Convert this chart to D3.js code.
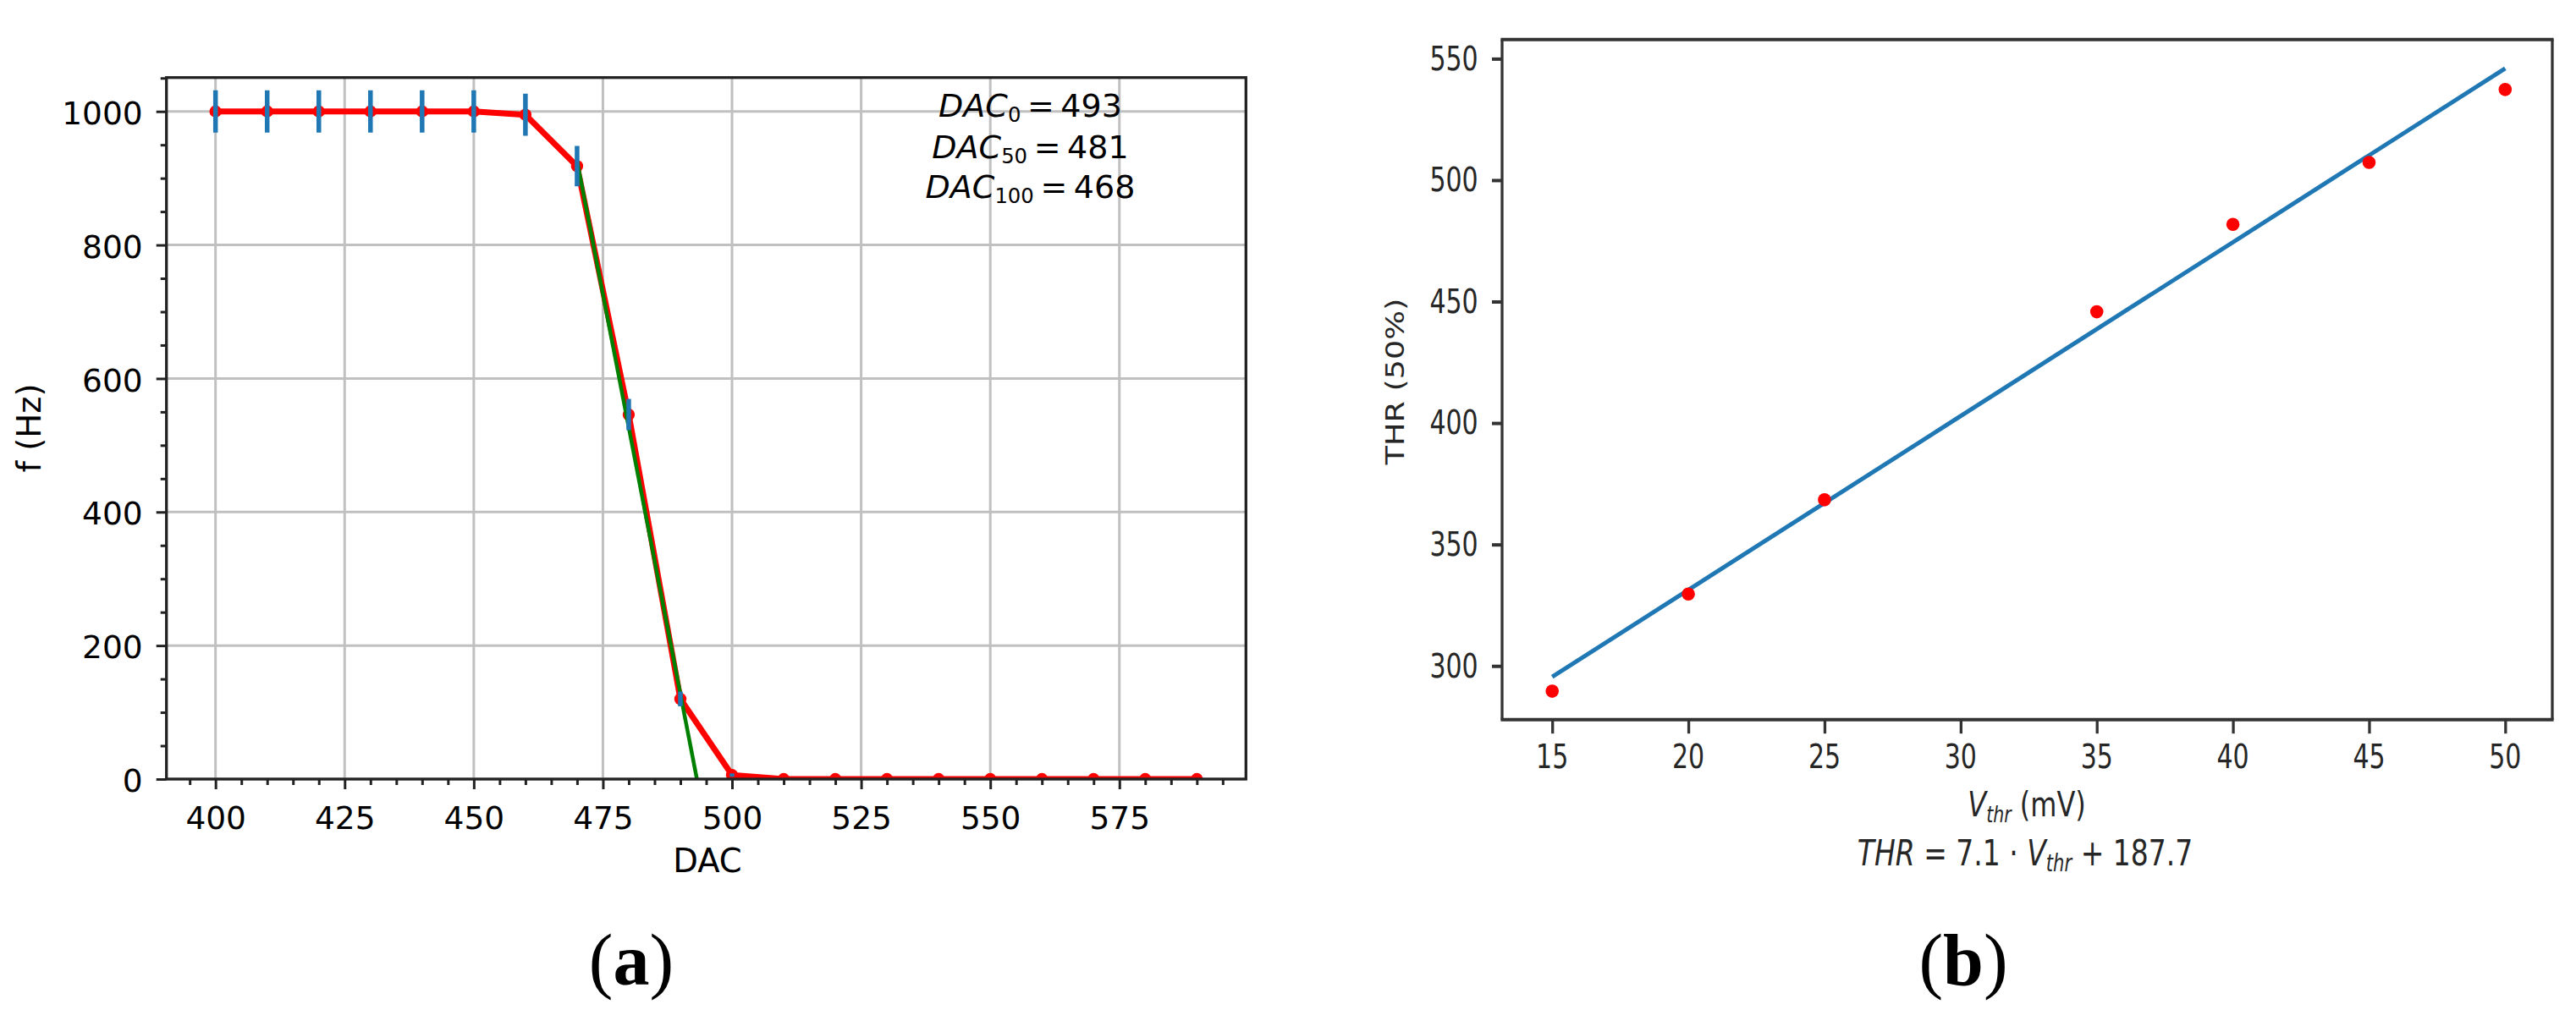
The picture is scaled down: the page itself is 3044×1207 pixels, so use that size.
<!DOCTYPE html>
<html>
<head>
<meta charset="utf-8">
<script src="https://cdn.jsdelivr.net/npm/d3@7"></script>
<style>
  html, body { margin: 0; padding: 0; background: #fff; }
  svg { display: block; }
</style>
</head>
<body>
<script>
// ---------- Data: panel (a) ----------
const dacValues = [400, 410, 420, 430, 440, 450, 460, 470, 480, 490, 500, 510, 520, 530, 540, 550, 560, 570, 580, 590];
const freqValues = [1000, 1000, 1000, 1000, 1000, 1000, 995, 918, 546, 120, 6, 0, 0, 0, 0, 0, 0, 0, 0, 0];
const freqErrors = [31.6, 31.6, 31.6, 31.6, 31.6, 31.6, 31.5, 30.3, 23.4, 11.0, 2.4, 0, 0, 0, 0, 0, 0, 0, 0, 0];
const fitDacX = [470, 493.2];
const fitDacY = [926, 0];
const xTicksA = [400, 425, 450, 475, 500, 525, 550, 575];
const yTicksA = [0, 200, 400, 600, 800, 1000];
const annotA = [
  { sub: "0", val: "493" },
  { sub: "50", val: "481" },
  { sub: "100", val: "468" }
];

// ---------- Data: panel (b) ----------
const vthrValues = [15, 20, 25, 35, 40, 45, 50];
const thrValues = [289.6, 329.6, 368.4, 445.8, 481.8, 507.3, 537.3];
const fitVthrX = [15, 50];
const fitThrY = [295.5, 546.0];
const xTicksB = [15, 20, 25, 30, 35, 40, 45, 50];
const yTicksB = [300, 350, 400, 450, 500, 550];

const W = 3044, H = 1207;
const FONT = "'DejaVu Sans', sans-serif";

const svg = d3.select("body").append("svg")
  .attr("width", W).attr("height", H)
  .attr("viewBox", `0 0 ${W} ${H}`);
svg.append("rect").attr("width", W).attr("height", H).attr("fill", "#fff");

const defs = svg.append("defs");

// helper to write mathtext-like rich text
function richText(sel, parts, size) {
  parts.forEach(p => {
    const t = sel.append("tspan").text(p.t);
    if (p.italic) t.attr("font-style", "italic");
    if (p.sub) {
      t.attr("font-size", size * 0.64).attr("dy", size * 0.16);
    } else if (p.after) {
      t.attr("dy", -size * 0.16);
    }
  });
}

// =============== Panel (a) ===============
const A = { l: 196.7, r: 1472.3, t: 91.7, b: 921 };
const xA = d3.scaleLinear().domain([390.5, 599.5]).range([A.l, A.r]);
const yA = d3.scaleLinear().domain([0, 1050.7]).range([A.b, A.t]);

defs.append("clipPath").attr("id", "clipA").append("rect")
  .attr("x", A.l).attr("y", A.t).attr("width", A.r - A.l).attr("height", A.b - A.t);

const gA = svg.append("g");

// grid
const gridA = gA.append("g").attr("stroke", "#c0c0c0").attr("stroke-width", 3);
gridA.selectAll("line.gx").data(xTicksA).join("line")
  .attr("x1", d => xA(d)).attr("x2", d => xA(d)).attr("y1", A.t).attr("y2", A.b);
gridA.selectAll("line.gy").data(yTicksA).join("line")
  .attr("y1", d => yA(d)).attr("y2", d => yA(d)).attr("x1", A.l).attr("x2", A.r);

const ptsA = dacValues.map((d, i) => ({ x: d, y: freqValues[i], e: freqErrors[i] }));
const dataA = gA.append("g").attr("clip-path", "url(#clipA)");

// red line + markers
dataA.append("path").datum(ptsA)
  .attr("fill", "none").attr("stroke", "#ff0000").attr("stroke-width", 7)
  .attr("stroke-linejoin", "round")
  .attr("d", d3.line().x(d => xA(d.x)).y(d => yA(d.y)));
dataA.selectAll("circle").data(ptsA).join("circle")
  .attr("cx", d => xA(d.x)).attr("cy", d => yA(d.y)).attr("r", 7.2).attr("fill", "#ff0000");

// green fit line
dataA.append("path").datum(fitDacX.map((x, i) => ({ x, y: fitDacY[i] })))
  .attr("fill", "none").attr("stroke", "#008000").attr("stroke-width", 4.5)
  .attr("d", d3.line().x(d => xA(d.x)).y(d => yA(d.y)));

// error bars
dataA.selectAll("line.err").data(ptsA.filter(d => d.e > 0)).join("line")
  .attr("class", "err")
  .attr("x1", d => xA(d.x)).attr("x2", d => xA(d.x))
  .attr("y1", d => yA(d.y - d.e)).attr("y2", d => yA(d.y + d.e))
  .attr("stroke", "#1f77b4").attr("stroke-width", 5.5);

// axes
const minorXA = d3.range(395, 600, 5).filter(v => v % 25 !== 0);
const minorYA = d3.range(50, 1051, 50).filter(v => v % 200 !== 0);

function styleAxis(g, size) {
  g.select(".domain").remove();
  g.selectAll(".tick line").attr("stroke", "#222").attr("stroke-width", 3);
  g.selectAll(".tick text").attr("font-family", FONT).attr("font-size", size).attr("fill", "#000");
}

const axXA = gA.append("g").attr("transform", `translate(0,${A.b})`)
  .call(d3.axisBottom(xA).tickValues(xTicksA).tickSize(12).tickPadding(20).tickFormat(d3.format("d")));
styleAxis(axXA, 37.5);
const axXAm = gA.append("g").attr("transform", `translate(0,${A.b})`)
  .call(d3.axisBottom(xA).tickValues(minorXA).tickSize(7).tickFormat(""));
styleAxis(axXAm, 37.5);

const axYA = gA.append("g").attr("transform", `translate(${A.l},0)`)
  .call(d3.axisLeft(yA).tickValues(yTicksA).tickSize(12).tickPadding(16).tickFormat(d3.format("d")));
styleAxis(axYA, 37.5);
axYA.selectAll(".tick text").attr("dy", "0.39em");
const axYAm = gA.append("g").attr("transform", `translate(${A.l},0)`)
  .call(d3.axisLeft(yA).tickValues(minorYA).tickSize(7).tickFormat(""));
styleAxis(axYAm, 37.5);

// spines
gA.append("rect").attr("x", A.l).attr("y", A.t).attr("width", A.r - A.l).attr("height", A.b - A.t)
  .attr("fill", "none").attr("stroke", "#222").attr("stroke-width", 3.3);

// labels
gA.append("text").attr("x", (A.l + A.r) / 2 + 1.5).attr("y", 1030.7)
  .attr("text-anchor", "middle").attr("font-family", FONT).attr("font-size", 38.5)
  .text("DAC");
gA.append("text").attr("transform", "translate(48.3,506) rotate(-90)")
  .attr("text-anchor", "middle").attr("font-family", FONT).attr("font-size", 38.5)
  .text("f (Hz)");

// annotation
const annBase = [137.7, 186.7, 234.3];
annotA.forEach((a, i) => {
  const t = gA.append("text").attr("x", 1217.5).attr("y", annBase[i])
    .attr("text-anchor", "middle").attr("font-family", FONT).attr("font-size", 38);
  richText(t, [
    { t: "DAC", italic: true },
    { t: a.sub, sub: true },
    { t: "\u2009=\u2009" + a.val, after: true }
  ], 38);
});

// (a)
const la = svg.append("text").attr("x", 746).attr("y", 1164).attr("text-anchor", "middle")
  .attr("font-family", "'Liberation Serif', serif").attr("font-size", 86);
la.append("tspan").text("(");
la.append("tspan").attr("font-weight", "bold").text("a");
la.append("tspan").text(")");

// =============== Panel (b) ===============
const B = { l: 1775, r: 3016, t: 46.7, b: 850.7 };
const xB = d3.scaleLinear().domain([13.16, 51.73]).range([B.l, B.r]);
const yB = d3.scaleLinear().domain([277.9, 557.9]).range([B.b, B.t]);
const SY = 1.3;
const TXT = "#262626";
const gB = svg.append("g");

// fit line
gB.append("path").datum(fitVthrX.map((x, i) => ({ x, y: fitThrY[i] })))
  .attr("fill", "none").attr("stroke", "#1f77b4").attr("stroke-width", 5)
  .attr("d", d3.line().x(d => xB(d.x)).y(d => yB(d.y)));

// points
gB.selectAll("circle").data(vthrValues.map((v, i) => ({ x: v, y: thrValues[i] }))).join("circle")
  .attr("cx", d => xB(d.x)).attr("cy", d => yB(d.y)).attr("r", 7.8).attr("fill", "#ff0000");

// axes (ticks only, labels placed with scale)
const axXB = gB.append("g").attr("transform", `translate(0,${B.b})`)
  .call(d3.axisBottom(xB).tickValues(xTicksB).tickSize(16.5).tickFormat(""));
axXB.select(".domain").remove();
axXB.selectAll(".tick line").attr("stroke", "#333").attr("stroke-width", 3.3);
const axYB = gB.append("g").attr("transform", `translate(${B.l},0)`)
  .call(d3.axisLeft(yB).tickValues(yTicksB).tickSize(12).tickFormat(""));
axYB.select(".domain").remove();
axYB.selectAll(".tick line").attr("stroke", "#333").attr("stroke-width", 4);

gB.selectAll("text.xl").data(xTicksB).join("text").attr("class", "xl")
  .attr("transform", d => `translate(${xB(d)},908) scale(1,${SY})`)
  .attr("text-anchor", "middle").attr("font-family", FONT).attr("font-size", 30).attr("fill", TXT)
  .text(d => d);
gB.selectAll("text.yl").data(yTicksB).join("text").attr("class", "yl")
  .attr("transform", d => `translate(1746.7,${yB(d) + 13.4}) scale(1,${SY})`)
  .attr("text-anchor", "end").attr("font-family", FONT).attr("font-size", 30).attr("fill", TXT)
  .text(d => d);

// spines
gB.append("line").attr("x1", B.l).attr("x2", B.l).attr("y1", B.t).attr("y2", B.b).attr("stroke", "#333").attr("stroke-width", 3.3);
gB.append("line").attr("x1", B.r).attr("x2", B.r).attr("y1", B.t).attr("y2", B.b).attr("stroke", "#333").attr("stroke-width", 3.3);
gB.append("line").attr("x1", B.l - 1.6).attr("x2", B.r + 1.6).attr("y1", B.t).attr("y2", B.t).attr("stroke", "#333").attr("stroke-width", 4);
gB.append("line").attr("x1", B.l - 1.6).attr("x2", B.r + 1.6).attr("y1", B.b).attr("y2", B.b).attr("stroke", "#333").attr("stroke-width", 4);

// axis labels
const xlb = gB.append("text").attr("transform", `translate(2395,965) scale(1,${SY})`)
  .attr("text-anchor", "middle").attr("font-family", FONT).attr("font-size", 32).attr("fill", TXT);
richText(xlb, [
  { t: "V", italic: true },
  { t: "thr", italic: true, sub: true },
  { t: " (mV)", after: true }
], 32);

const flb = gB.append("text").attr("transform", `translate(2393,1022.7) scale(1,${SY})`)
  .attr("text-anchor", "middle").attr("font-family", FONT).attr("font-size", 33).attr("fill", TXT);
richText(flb, [
  { t: "THR", italic: true },
  { t: " = 7.1 \u00b7 " },
  { t: "V", italic: true },
  { t: "thr", italic: true, sub: true },
  { t: " + 187.7", after: true }
], 33);

gB.append("text").attr("transform", `translate(1659,451) rotate(-90) scale(1.22,1)`)
  .attr("text-anchor", "middle").attr("font-family", FONT).attr("font-size", 30).attr("fill", TXT)
  .text("THR (50%)");

// (b)
const lb = svg.append("text").attr("x", 2320).attr("y", 1164).attr("text-anchor", "middle")
  .attr("font-family", "'Liberation Serif', serif").attr("font-size", 86);
lb.append("tspan").text("(");
lb.append("tspan").attr("font-weight", "bold").text("b");
lb.append("tspan").text(")");
</script>
</body>
</html>
